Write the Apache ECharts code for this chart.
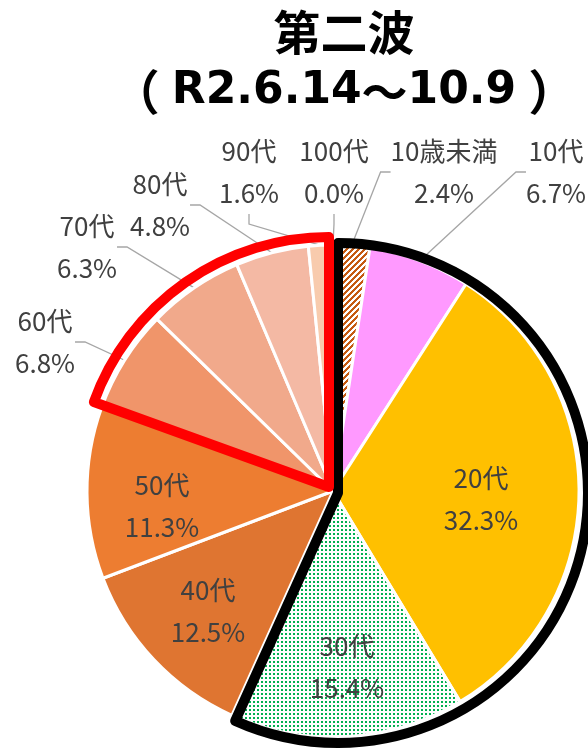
<!DOCTYPE html>
<html>
<head>
<meta charset="utf-8">
<script src="https://cdn.jsdelivr.net/npm/echarts@6/dist/echarts.min.js"></script>
<style>
html,body{margin:0;padding:0;background:#fff;}
#chart{width:588px;height:749px;}
</style>
</head>
<body>
<div id="chart"></div>
<script>
// ---- data ----
const titleLine1 = '第二波';
const titleParts = ['（', 'R2.6.14', '～', '10.9', '）'];
const categories = ['10歳未満', '10代', '20代', '30代', '40代', '50代', '60代', '70代', '80代', '90代', '100代'];
const shares = [2.4, 6.7, 32.3, 15.4, 12.5, 11.3, 6.8, 6.3, 4.8, 1.6, 0.0];
const blackGroup = ['10歳未満', '10代', '20代', '30代'];
const redGroup = ['60代', '70代', '80代', '90代', '100代'];
const insideLabels = ['20代', '30代', '40代', '50代'];

// ---- styles / layout ----
const CX = 333, CY = 491, R = 246;
function stripePattern() {
  const c = document.createElement('canvas');
  c.width = 6; c.height = 6;
  const g = c.getContext('2d');
  g.fillStyle = '#fff'; g.fillRect(0, 0, 6, 6);
  g.fillStyle = '#C55A11';
  for (let x = 0; x < 6; x++) for (let y = 0; y < 6; y++) if ((x + y) % 6 < 3) g.fillRect(x, y, 1, 1);
  return { image: c, repeat: 'repeat' };
}
function dotPattern() {
  const c = document.createElement('canvas');
  c.width = 4; c.height = 4;
  const g = c.getContext('2d');
  g.fillStyle = '#fff'; g.fillRect(0, 0, 4, 4);
  g.fillStyle = '#00B050'; g.fillRect(1, 1, 2, 2);
  return { image: c, repeat: 'repeat' };
}
const sliceColors = {
  '10歳未満': stripePattern(), '10代': '#FF99FF', '20代': '#FFC000', '30代': dotPattern(),
  '40代': '#DF7531', '50代': '#ED7D31', '60代': '#F0956A', '70代': '#F1A98B',
  '80代': '#F4B9A4', '90代': '#F8CBAD', '100代': '#F8CBAD'
};
// label block centres (text placement, not marks)
const labelPos = {
  '10歳未満': [444, 172], '10代': [556, 172], '20代': [481, 499], '30代': [347, 667],
  '40代': [208, 611], '50代': [162, 506], '60代': [45, 342], '70代': [87, 247],
  '80代': [160, 205], '90代': [249, 172], '100代': [334, 172]
};
const labelFont = 'Noto Sans CJK JP';

const mainData = categories.map((name, i) => ({
  name, value: shares[i],
  itemStyle: { color: sliceColors[name] },
  label: { position: insideLabels.includes(name) ? 'inside' : 'outside' },
  labelLine: { show: !insideLabels.includes(name) }
}));

function sumOf(names) {
  return categories.reduce((s, n, i) => s + (names.includes(n) ? shares[i] : 0), 0);
}
const total = shares.reduce((a, b) => a + b, 0);
const blackSum = sumOf(blackGroup);
const redSum = sumOf(redGroup);

function outlineSeries(center, data) {
  return {
    type: 'pie', center, radius: [0, 250], startAngle: 90, clockwise: true,
    silent: true, label: { show: false }, labelLine: { show: false },
    emphasis: { disabled: true }, animation: false, z: 5,
    data
  };
}
const hidden = { color: 'transparent', borderWidth: 0 };

const titleRich = {
  o: { fontFamily: 'Noto Sans CJK JP', fontWeight: 'bold', fontSize: 48, color: '#000', padding: [0, 12, 0, 0] },
  e: { fontFamily: 'Noto Sans CJK JP', fontWeight: 'bold', fontSize: 48, color: '#000', padding: [0, 0, 0, 12] },
  c: { fontFamily: 'Noto Sans CJK JP', fontWeight: 'bold', fontSize: 46, color: '#000' },
  l: { fontFamily: 'DejaVu Sans', fontWeight: 'bold', fontSize: 44, color: '#000' }
};

const chart = echarts.init(document.getElementById('chart'), null, { renderer: 'canvas' });
chart.setOption({
  animation: false,
  backgroundColor: '#fff',
  title: [
    { text: titleLine1, left: 339, top: 4, textAlign: 'center',
      textStyle: { fontSize: 47, fontWeight: 'bold', color: '#000', fontFamily: 'Noto Sans CJK JP' } },
    { text: '{o|' + titleParts[0] + '}{l|' + titleParts[1] + '}{c|' + titleParts[2] + '}{l|' + titleParts[3] + '}{e|' + titleParts[4] + '}',
      left: 339, top: 63, textAlign: 'center',
      textStyle: { rich: titleRich } }
  ],
  series: [
    {
      type: 'pie', center: [CX, CY], radius: [0, R], startAngle: 90, clockwise: true,
      avoidLabelOverlap: false, animation: false, silent: true,
      itemStyle: { borderColor: '#fff', borderWidth: 3 },
      label: {
        show: true, color: '#404040', fontSize: 26, lineHeight: 42, fontFamily: labelFont,
        formatter: p => p.name + '\n' + p.value.toFixed(1) + '%'
      },
      labelLine: { show: true, length: 10, length2: 10, lineStyle: { color: '#A6A6A6', width: 1.3 } },
      labelLayout: function (params) {
        const name = categories[params.dataIndex];
        const p = labelPos[name];
        return { x: p[0], y: p[1], align: 'center', verticalAlign: 'middle' };
      },
      data: mainData
    },
    outlineSeries([338, 493], [
      { name: 'blk', value: blackSum, itemStyle: { color: 'transparent', borderColor: '#000', borderWidth: 10 } },
      { name: 'rest', value: total - blackSum, itemStyle: hidden }
    ]),
    outlineSeries([329, 487], [
      { name: 'rest', value: total - redSum, itemStyle: hidden },
      { name: 'red', value: redSum, itemStyle: { color: 'transparent', borderColor: '#FF0000', borderWidth: 10 } }
    ])
  ]
});
</script>
</body>
</html>
